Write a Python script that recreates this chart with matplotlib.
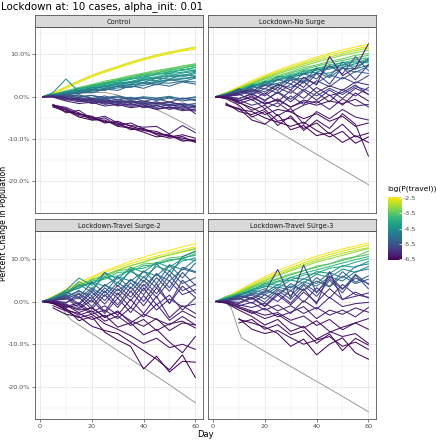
import numpy as np
import matplotlib
matplotlib.use("Agg")
import matplotlib.pyplot as plt
from matplotlib.colors import Normalize

plt.rcParams["axes.unicode_minus"] = False

# dias donde se leyeron los valores de cada trayectoria
days = [1, 5, 10, 15, 20, 25, 30, 35, 40, 45, 50, 55, 60]
nan = float("nan")

# cada trayectoria: (log(P(travel)), cambio % en los dias de arriba)
control_lines = [
    (-2.5, [0, 0.8, 2.2, 3.6, 4.9, 6.0, 7.0, 8.0, 8.9, 9.7, 10.4, 11.0, 11.6]),
    (-2.6, [0, 0.7, 2.0, 3.4, 4.7, 5.8, 6.8, 7.8, 8.7, 9.5, 10.2, 10.8, 11.3]),
    (-2.7, [0, 0.9, 2.4, 3.8, 5.1, 6.2, 7.2, 8.2, 9.1, 9.9, 10.6, 11.2, 11.8]),
    (-3.3, [0, 0.6, 1.3, 2.0, 2.8, 3.4, 4.1, 4.8, 5.4, 6.0, 6.6, 7.1, 7.7]),
    (-3.4, [0, 0.6, 1.4, 2.2, 2.9, 3.7, 4.3, 5.0, 5.6, 6.2, 6.7, 7.3, 7.8]),
    (-3.6, [0, 0.5, 1.1, 1.8, 2.5, 3.2, 3.9, 4.5, 5.1, 5.6, 6.2, 6.8, 7.3]),
    (-3.7, [0, 0.5, 1.3, 1.9, 2.7, 3.3, 4.0, 4.6, 5.3, 5.7, 6.4, 6.8, 7.5]),
    (-3.9, [0, 0.4, 1.0, 1.6, 2.2, 2.9, 3.5, 4.1, 4.7, 5.3, 5.8, 6.4, 6.9]),
    (-4.0, [0, 0.4, 1.2, 1.7, 2.6, 3.0, 3.8, 4.2, 5.0, 5.2, 6.0, 6.2, 7.0]),
    (-4.1, [0, 0.6, 1.0, 2.0, 2.3, 3.2, 3.4, 4.3, 4.5, 5.4, 5.5, 6.5, 6.2]),
    (-4.2, [0, 0.5, 0.9, 1.5, 2.0, 2.7, 3.2, 3.6, 4.4, 4.7, 5.5, 5.8, 6.4]),
    (-4.3, [0, 0.3, 1.0, 1.3, 2.1, 2.4, 3.2, 3.3, 4.2, 4.3, 5.2, 5.0, 5.8]),
    (-4.4, [0, 0.3, 0.8, 1.4, 1.8, 2.5, 2.9, 3.5, 3.9, 4.6, 4.9, 5.6, 6.0]),
    (-4.5, [0, 1.0, 4.2, 1.2, 1.5, 1.9, 2.5, 2.8, 3.1, 3.5, 3.9, 4.2, 4.6]),
    (-4.6, [0, 0.4, 1.2, 1.2, 2.2, 2.1, 3.1, 3.0, 4.0, 3.8, 4.8, 4.7, 5.5]),
    (-4.7, [0, 0.5, 0.8, 1.6, 1.6, 2.6, 2.5, 3.5, 3.4, 4.4, 4.2, 5.2, 4.9]),
    (-4.8, [0, 0.3, 0.6, 1.1, 1.5, 2.0, 2.4, 2.9, 3.2, 3.6, 4.1, 4.3, 4.8]),
    (-5.0, [0, 0.2, 0.5, 0.9, 1.3, 1.6, 2.1, 2.3, 2.7, 3.3, 3.2, 3.7, 3.5]),
    (-5.0, [0, 0.2, 0.7, 0.8, 1.7, 1.5, 2.6, 2.2, 3.4, 2.8, 4.0, 3.6, 4.4]),
    (-5.2, [0, 0.3, 0.4, 1.2, 0.9, 1.8, 1.5, 2.6, 2.0, 3.0, 2.5, 3.5, 3.0]),
    (-4.9, [0, 0.3, 0.5, 0.2, -0.3, -0.5, -0.2, -0.8, -0.4, -0.6, -0.1, -0.5, 0.0]),
    (-5.1, [0, 0.2, 0.6, 0.1, 0.3, -0.2, 0.2, -0.4, 0.0, -0.3, 0.1, -0.6, -0.2]),
    (-5.3, [0, 0.0, -0.4, -0.7, -1.0, -0.6, -1.4, -1.1, -1.7, -1.3, -2.1, -1.8, -2.0]),
    (-5.4, [0, 0.1, 0.2, -0.2, 0.3, -0.4, 0.0, -0.6, -0.2, -0.9, -0.3, -1.0, -0.6]),
    (-5.5, [0, 0.2, 0.1, -0.5, -0.8, -1.2, -1.0, -1.5, -1.3, -1.8, -1.4, -2.0, -1.6]),
    (-5.5, [0, 0.3, 0.0, 0.5, -0.5, 0.2, -0.8, -0.1, -1.1, -0.4, -1.3, -0.3, -0.9]),
    (-5.6, [0, 0.2, 0.4, -0.2, -0.8, -0.5, -1.2, -0.9, -1.6, -1.2, -1.9, -1.5, -2.2]),
    (-5.7, [0, 0.0, -0.5, -0.4, -1.2, -0.9, -1.6, -1.2, -2.0, -1.6, -2.2, -1.9, -2.4]),
    (-5.8, [0, 0.1, -0.3, -0.9, -1.5, -1.3, -2.0, -1.8, -2.4, -2.1, -2.7, -2.3, -2.6]),
    (-5.9, [0, 0.2, -0.1, -1.0, -0.6, -1.6, -1.1, -2.0, -1.5, -2.5, -1.8, -2.8, -2.2]),
    (-6.0, [0, 0.1, -0.6, -1.2, -0.9, -1.8, -1.4, -2.3, -1.9, -2.8, -2.4, -3.0, -3.4]),
    (-6.0, [0, 0.1, -0.8, -0.5, -1.6, -1.1, -2.2, -1.6, -2.6, -2.0, -3.0, -2.4, -3.2]),
    (-6.1, [0, 0.1, -0.2, -0.6, -0.4, -1.0, -0.7, -1.3, -1.0, -1.6, -1.2, -1.9, -4.0]),
    (-6.2, [0, -0.1, -1.0, -1.6, -1.3, -2.2, -1.8, -2.6, -2.2, -3.0, -2.5, -3.3, -2.9]),
    (-6.2, [nan, -1.8, -3.8, -3.2, -5.2, -4.6, -6.2, -6.8, -7.2, -7.0, -8.8, -6.8, -8.5]),
    (-6.3, [nan, -2.0, -2.5, -3.8, -5.5, -5.0, -6.8, -6.2, -7.6, -8.8, -9.0, -10.2, -10.6]),
    (-6.4, [nan, -2.2, -3.0, -4.5, -5.0, -5.8, -6.5, -7.4, -8.0, -8.6, -9.3, -9.8, -10.4]),
    (-6.4, [nan, -1.9, -2.8, -4.2, -4.6, -6.0, -6.2, -7.8, -7.5, -9.0, -9.8, -9.4, -10.8]),
    (-6.5, [nan, -2.4, -3.5, -4.0, -4.8, -6.2, -5.8, -7.0, -7.8, -8.2, -9.5, -9.0, -9.8]),
    (-6.5, [nan, -2.1, -3.2, -4.8, -5.5, -5.5, -7.0, -7.4, -8.4, -9.5, -9.1, -10.5, -10.2]),
]
control_gray_days = [1, 10, 20, 25, 30, 35, 40, 45, 50, 55, 60]
control_gray = [0, 0.5, 1.0, 1.0, 0.4, -0.6, -1.7, -3.0, -4.5, -6.1, -7.8]

nosurge_lines = [
    (-2.5, [0, 1.0, 2.4, 3.8, 5.1, 6.3, 7.4, 8.4, 9.4, 10.3, 11.1, 11.8, 12.4]),
    (-2.7, [0, 0.9, 2.2, 3.5, 4.8, 6.0, 7.0, 8.0, 9.0, 9.9, 10.6, 11.3, 11.9]),
    (-2.9, [0, 0.8, 2.0, 3.3, 4.6, 5.7, 6.7, 7.7, 8.6, 9.4, 10.2, 10.9, 11.5]),
    (-3.2, [0, 0.9, 2.0, 3.2, 4.4, 5.4, 6.4, 7.3, 8.2, 9.0, 9.8, 10.4, 11.0]),
    (-3.4, [0, 0.8, 1.8, 3.0, 4.2, 5.0, 5.9, 6.9, 7.5, 8.4, 9.0, 9.8, 10.2]),
    (-3.6, [0, 0.7, 1.6, 2.8, 3.8, 4.7, 5.6, 6.5, 7.2, 8.0, 8.6, 9.2, 9.8]),
    (-3.8, [0, 0.6, 1.5, 2.6, 3.4, 4.5, 5.1, 6.2, 6.6, 7.6, 8.0, 8.8, 9.2]),
    (-4.0, [0, 0.6, 1.8, 2.4, 3.6, 4.0, 5.3, 5.5, 6.8, 6.9, 8.2, 8.0, 9.0]),
    (-4.2, [0, 0.7, 1.4, 2.9, 3.0, 4.8, 4.6, 6.0, 6.3, 7.2, 7.4, 8.5, 8.0]),
    (-4.4, [0, 0.6, 1.3, 2.6, 2.8, 4.2, 4.3, 5.6, 5.8, 6.9, 7.0, 7.8, 8.6]),
    (-4.5, [0, 0.5, 1.2, 2.2, 3.4, 3.8, 4.9, 5.2, 6.4, 6.5, 7.6, 7.2, 8.4]),
    (-4.8, [0, 0.5, 1.0, 2.0, 2.6, 3.2, 4.0, 4.4, 5.5, 5.6, 6.8, 6.6, 7.5]),
    (-5.0, [0, 0.4, 1.5, 1.2, 3.0, 2.2, 4.5, 3.2, 5.8, 4.5, 6.8, 5.8, 7.2]),
    (-5.2, [0, 0.4, 1.6, 1.0, 3.5, 2.6, 4.8, 3.5, 6.8, 4.8, 8.2, 6.5, 9.0]),
    (-5.3, [0, 0.3, 0.6, 1.6, 1.2, 2.8, 2.2, 4.0, 3.2, 5.2, 4.2, 6.0, 5.5]),
    (-5.5, [0, 0.5, 0.8, 2.5, 1.8, 4.2, 3.0, 5.6, 4.2, 7.4, 5.4, 9.5, 6.2]),
    (-5.6, [0, 0.2, -0.5, 0.8, -1.0, 1.2, -0.6, 1.8, 0.2, 2.0, 0.5, 2.4, 1.5]),
    (-5.7, [0, 0.2, 1.2, 0.4, 2.0, 0.8, 3.0, 1.5, 3.8, 2.4, 4.6, 3.2, 5.0]),
    (-5.8, [0, 0.3, 1.9, 0.5, 2.8, 1.5, 4.0, 2.2, 5.5, 3.0, 7.0, 4.0, 7.6]),
    (-5.9, [0, 0.1, -0.8, -2.0, -1.2, -2.4, 0.2, -1.8, 1.0, -1.2, 1.8, 0.2, 2.2]),
    (-6.0, [0, 0.1, 0.6, -0.8, 0.9, -1.2, 1.5, -0.4, 2.2, 0.3, 1.0, 2.8, 0.5]),
    (-6.0, [0, 0.1, 0.4, 1.4, 0.2, 2.2, 0.8, 3.6, 1.0, 2.6, 1.5, 3.5, 2.8]),
    (-6.1, [0, 0.0, -1.6, -0.6, -2.8, -1.4, -3.6, -2.0, -1.0, -3.0, -0.5, -2.2, -1.8]),
    (-6.1, [0, 0.0, -0.4, 0.6, -0.8, 1.0, -1.2, 1.4, -0.8, 1.6, -0.4, 2.0, 0.6]),
    (-6.2, [0, 0.2, 0.9, 1.8, 0.6, 3.0, 1.6, 4.6, 2.8, 9.5, 5.0, 6.8, 12.5]),
    (-6.2, [0, -0.3, -1.2, -3.2, -2.0, -4.5, -2.8, -6.5, -3.5, -5.2, -3.0, -4.8, -5.5]),
    (-6.3, [0, -0.2, -1.0, 0.2, -1.8, -0.5, -2.5, -0.8, -1.5, 0.4, -2.0, 0.9, -1.0]),
    (-6.3, [0, -0.1, -0.9, -0.2, -1.6, -0.8, -2.4, -1.2, -2.0, -1.0, -1.6, -0.6, -2.4]),
    (-6.3, [0, -0.5, -2.0, -4.8, -3.5, -6.8, -4.5, -8.0, -5.5, -7.5, -4.0, -6.5, -14.0]),
    (-6.4, [nan, -1.5, -3.5, -4.2, -3.0, -5.8, -5.0, -7.5, -6.2, -8.8, -6.5, -9.5, -8.6]),
    (-6.4, [0, -0.2, -1.4, -2.6, -4.2, -3.0, -3.6, -5.2, -4.0, -5.8, -4.6, -7.0, -6.2]),
    (-6.5, [nan, -1.8, -2.8, -5.5, -6.5, -4.2, -7.8, -6.8, -9.2, -8.5, -10.8, -9.2, -10.8]),
    (-6.5, [nan, -2.0, -3.0, -3.5, -5.0, -6.0, -7.0, -6.0, -8.0, -9.5, -8.2, -11.0, -9.5]),
]
nosurge_gray_days = [1, 7, 10, 15, 20, 30, 40, 50, 60]
nosurge_gray = [0, 0, -2.5, -4.6, -6.4, -10.0, -13.6, -17.2, -20.8]

surge2_lines = [
    (-2.5, [0, 1.2, 2.8, 4.5, 5.8, 7.2, 8.3, 9.4, 10.4, 11.3, 12.0, 12.8, 13.5]),
    (-2.6, [0, 1.0, 2.5, 4.1, 5.5, 6.8, 7.9, 8.9, 9.8, 10.6, 11.4, 12.1, 12.8]),
    (-2.8, [0, 0.9, 2.3, 3.7, 5.0, 6.2, 7.3, 8.3, 9.3, 10.1, 10.9, 11.6, 12.2]),
    (-3.2, [0, 1.0, 2.4, 3.8, 5.0, 6.2, 7.4, 8.4, 9.2, 10.2, 10.9, 11.7, 12.4]),
    (-3.5, [0, 0.9, 2.4, 3.5, 5.2, 5.8, 7.2, 7.6, 8.8, 9.0, 10.2, 10.5, 11.6]),
    (-3.8, [0, 0.8, 2.6, 3.0, 4.8, 5.2, 6.8, 7.0, 8.4, 8.6, 9.8, 10.0, 11.2]),
    (-4.0, [0, 0.8, 2.0, 3.6, 4.2, 5.6, 6.0, 7.4, 7.8, 8.9, 9.5, 10.2, 10.8]),
    (-4.2, [0, 0.6, 1.8, 4.6, 3.0, 5.8, 4.4, 7.0, 5.6, 8.2, 7.2, 9.5, 10.2]),
    (-4.3, [0, 1.0, 2.6, 5.5, 3.8, 6.8, 5.2, 8.0, 6.8, 9.2, 8.0, 10.0, 9.6]),
    (-4.6, [0, 0.8, 2.0, 3.2, 4.6, 3.6, 5.8, 4.8, 7.0, 6.0, 8.6, 7.4, 9.8]),
    (-4.8, [0, 0.7, 1.5, 4.0, 2.2, 6.8, 3.5, 7.5, 4.5, 8.8, 6.0, 10.5, 11.8]),
    (-5.0, [0, 0.5, 1.2, 2.4, 1.4, 3.8, 2.5, 5.0, 3.6, 6.4, 4.8, 7.6, 6.8]),
    (-5.1, [0, 0.5, 2.2, 1.0, 4.5, 2.0, 5.8, 3.0, 7.2, 4.2, 8.5, 5.5, 9.0]),
    (-5.3, [0, 0.4, 1.6, 0.6, 3.2, 1.2, 4.5, 2.2, 5.8, 3.2, 7.2, 4.2, 5.6]),
    (-5.4, [0, 0.4, 0.8, 2.6, 0.6, 4.0, 1.5, 5.2, 2.5, 6.6, 3.2, 8.0, 7.0]),
    (-5.6, [0, 0.3, 0.5, 2.0, -0.2, 3.2, 0.8, 4.4, 1.6, 5.6, 2.4, 6.8, 3.8]),
    (-5.7, [0, 0.3, 1.4, -0.5, 2.8, 0.2, 3.8, 1.0, 5.0, 1.8, 6.2, 2.5, 4.0]),
    (-5.8, [0, 0.2, 1.0, -0.8, 2.2, -0.6, 3.0, 0.2, 4.0, 1.0, 4.8, 1.6, 2.8]),
    (-5.9, [0, 0.2, -0.4, 1.8, -1.2, 2.5, -0.8, 3.4, 0.0, 4.2, -0.5, 5.0, 2.0]),
    (-6.0, [0, 0.1, 0.9, -1.5, 1.2, -2.4, 2.0, -1.5, 3.2, -0.8, 1.5, -2.0, 0.8]),
    (-6.0, [0, 0.1, -0.2, 1.0, -1.8, 1.6, -1.4, 2.4, -1.0, 3.2, -0.4, 3.6, 1.0]),
    (-6.1, [0, 0.0, -0.6, -1.8, 0.4, -2.8, 0.8, -2.6, 1.4, -2.0, 0.6, -1.2, -0.6]),
    (-6.2, [0, 0.0, -1.2, -0.3, -2.5, -1.0, -3.2, 0.5, -2.8, 1.2, -3.8, -1.0, -2.8]),
    (-6.2, [0, -0.1, -1.4, -0.8, -3.0, -2.0, -4.0, -1.4, -3.6, -0.6, -4.4, -2.2, -3.8]),
    (-6.3, [0, -0.2, -0.8, -2.6, -1.4, -3.8, -2.2, -5.0, -3.0, -4.2, -5.5, -3.5, -5.5]),
    (-6.3, [0, -0.3, -1.8, -3.2, -2.2, -4.6, -3.4, -5.6, -4.2, -6.8, -5.2, -4.6, -6.2]),
    (-6.3, [0, -0.3, -1.0, -2.0, -1.5, -3.5, -2.5, -4.5, -5.8, -4.0, -6.8, -5.0, -5.5]),
    (-6.4, [nan, -1.0, -2.2, -3.8, -3.0, -5.2, -6.5, -8.0, -9.8, -8.6, -10.8, -10.0, -11.2]),
    (-6.4, [0, -0.4, -2.0, -2.8, -4.2, -3.2, -6.0, -5.0, -7.8, -6.5, -9.5, -12.0, -8.2]),
    (-6.5, [nan, -1.5, -3.0, -3.5, -5.8, -6.8, -7.5, -9.5, -11.5, -13.5, -16.0, -12.5, -17.8]),
    (-6.5, [0, -0.5, -1.6, -4.5, -3.5, -7.2, -9.0, -10.5, -15.8, -12.8, -16.5, -14.0, -14.2]),
]
surge2_gray_days = [1, 7, 8, 10, 12, 20, 30, 40, 50, 60]
surge2_gray = [0, 0, -0.8, -3.0, -4.3, -7.5, -11.5, -15.5, -19.5, -23.7]

surge3_lines = [
    (-2.5, [0, 1.0, 2.6, 4.3, 5.8, 7.2, 8.4, 9.6, 10.6, 11.5, 12.3, 13.0, 13.7]),
    (-2.7, [0, 0.9, 2.4, 4.0, 5.4, 6.7, 7.9, 9.0, 10.1, 11.0, 11.8, 12.5, 13.2]),
    (-2.9, [0, 0.8, 2.2, 3.7, 5.0, 6.3, 7.5, 8.6, 9.6, 10.5, 11.3, 12.0, 12.6]),
    (-3.1, [0, 1.0, 2.2, 3.6, 4.8, 6.0, 7.2, 8.2, 9.2, 10.0, 10.8, 11.6, 12.4]),
    (-3.4, [0, 1.2, 2.0, 3.4, 4.5, 5.4, 6.5, 7.2, 8.3, 8.8, 9.9, 10.5, 11.8]),
    (-3.6, [0, 0.8, 1.8, 3.2, 4.2, 5.2, 6.2, 7.2, 8.0, 8.8, 9.6, 10.4, 11.0]),
    (-3.9, [0, 0.9, 1.6, 2.9, 3.8, 4.8, 5.6, 6.6, 7.4, 8.2, 9.0, 9.8, 10.5]),
    (-4.0, [0, 0.9, 1.4, 2.8, 3.4, 4.6, 5.0, 6.2, 6.6, 7.8, 8.2, 9.2, 10.0]),
    (-4.3, [0, 0.7, 1.8, 2.5, 4.2, 3.8, 5.6, 5.2, 7.0, 6.6, 8.4, 8.0, 9.4]),
    (-4.5, [0, 0.6, 1.6, 2.2, 3.6, 3.2, 5.0, 4.4, 6.4, 5.6, 7.6, 6.8, 8.2]),
    (-4.8, [0, 0.6, 1.2, 2.6, 2.0, 4.0, 3.2, 5.4, 4.2, 6.8, 5.5, 8.2, 8.8]),
    (-4.9, [0, 0.5, 1.0, 2.0, 1.6, 3.4, 2.6, 4.6, 3.6, 5.8, 4.8, 7.0, 7.6]),
    (-5.2, [0, 0.4, 0.9, 1.8, 3.0, 1.5, 4.2, 2.5, 5.6, 3.5, 7.0, 4.5, 6.0]),
    (-5.3, [0, 0.4, 1.2, 0.8, 2.6, 1.6, 3.6, 2.6, 4.8, 3.4, 6.0, 4.2, 5.2]),
    (-5.5, [0, 0.3, 0.4, 1.8, 0.6, 3.0, 1.4, 4.2, 2.2, 5.4, 2.8, 6.4, 4.0]),
    (-5.6, [0, 0.2, 0.6, 1.5, -0.2, 2.6, 0.5, 3.8, 1.2, 5.0, 2.0, 6.2, 3.0]),
    (-5.8, [0, 0.3, 1.4, 0.5, 2.2, 7.5, 0.8, 8.5, 2.0, 6.0, 3.0, 5.5, 4.2]),
    (-5.9, [0, 0.2, 0.8, -0.4, 1.6, 0.0, 2.6, -0.2, 3.2, 0.8, 4.0, 1.6, 1.0]),
    (-6.0, [0, 0.1, -0.5, 0.8, -1.2, 1.5, -0.8, 2.2, -0.2, 3.0, 0.5, 1.2, 2.0]),
    (-6.0, [0, 0.1, -0.2, 1.0, -1.0, 2.0, -0.4, 3.0, -0.6, 7.0, 0.4, 2.2, 0.8]),
    (-6.1, [0, 0.0, -1.0, -0.2, -2.0, -0.8, -2.8, 0.2, -1.8, 1.0, -1.2, -0.5, -0.2]),
    (-6.1, [0, 0.0, -0.8, -1.4, -0.4, -2.2, -1.0, -2.8, -1.4, -3.2, -2.0, -3.6, -1.4]),
    (-6.2, [0, -0.2, -1.5, -2.8, -1.6, -3.6, -2.5, -1.2, -4.0, -2.0, -3.0, -1.5, -2.5]),
    (-6.3, [0, -0.3, -1.5, -2.5, -4.0, -3.0, -5.0, -6.2, -4.5, -7.0, -8.2, -7.5, -9.8]),
    (-6.3, [0, -0.2, -1.2, -2.2, -3.2, -2.6, -4.4, -3.4, -5.6, -4.2, -6.6, -5.0, -4.0]),
    (-6.4, [nan, nan, -4.0, -6.5, -7.5, -6.8, -8.5, -10.0, -9.0, -8.2, -10.5, -9.5, -11.2]),
    (-6.4, [0, -0.4, -2.0, -3.5, -5.5, -4.2, -7.0, -5.8, -8.8, -7.2, -6.0, -5.0, -6.5]),
    (-6.4, [nan, nan, -5.0, -4.2, -6.5, -5.4, -7.8, -6.8, -9.8, -7.6, -11.5, -8.6, -10.2]),
    (-6.5, [nan, nan, -4.2, -5.0, -6.0, -7.5, -10.5, -8.8, -12.5, -10.0, -8.5, -12.0, -13.5]),
]
surge3_gray_days = [1, 5, 7, 10, 11, 20, 30, 40, 50, 60]
surge3_gray = [0, 0, -1.5, -7.0, -8.5, -11.7, -15.2, -18.7, -22.2, -25.8]

panel_titles = ["Control", "Lockdown-No Surge",
                "Lockdown-Travel Surge-2", "Lockdown-Travel SUrge-3"]
panels = [
    (control_lines, control_gray_days, control_gray),
    (nosurge_lines, nosurge_gray_days, nosurge_gray),
    (surge2_lines, surge2_gray_days, surge2_gray),
    (surge3_lines, surge3_gray_days, surge3_gray),
]

W, H = 436, 440
fig = plt.figure(figsize=(W / 100, H / 100), dpi=100)
norm = Normalize(vmin=-6.55, vmax=-2.45)
cmap = plt.get_cmap("viridis")

border = "#555555"
grid_c = "#EBEBEB"
tick_c = "#4D4D4D"

# posiciones en pixeles (x0, x1, y_top, y_bottom)
boxes = [(35, 203, 27, 213), (208, 376, 27, 213),
         (35, 203, 231, 419), (208, 376, 231, 419)]

for i, (lines, gdays, gvals) in enumerate(panels):
    x0, x1, yt, yb = boxes[i]
    ax = fig.add_axes([x0 / W, 1 - yb / H, (x1 - x0) / W, (yb - yt) / H])
    ax.set_xlim(-1.95, 62.95)
    ax.set_ylim(-27.5, 16.5)
    ax.set_xticks([0, 20, 40, 60])
    ax.set_xticks([10, 30, 50], minor=True)
    ax.set_yticks([-20, -10, 0, 10])
    ax.set_yticks([-25, -15, -5, 5, 15], minor=True)
    ax.grid(True, which="major", color=grid_c, lw=0.7)
    ax.grid(True, which="minor", color=grid_c, lw=0.35)
    ax.set_axisbelow(True)
    for s in ax.spines.values():
        s.set_color(border)
        s.set_linewidth(0.6)
    ax.tick_params(which="minor", length=0)
    ax.tick_params(which="major", length=2, width=0.5, color=tick_c,
                   labelsize=4.6, labelcolor=tick_c, pad=1.5)

    ax.plot(gdays, gvals, color="#9A9A9A", lw=0.7, zorder=2)
    for lp, v in lines:
        ax.plot(days, v, color=cmap(norm(lp)), lw=0.75, zorder=3)

    if i % 2 == 1:
        ax.tick_params(labelleft=False, left=False)
    else:
        ax.set_yticklabels(["-20.0%", "-10.0%", "0.0%", "10.0%"])
    if i < 2:
        ax.tick_params(labelbottom=False, bottom=False)

    # tira con el nombre del panel
    sx = fig.add_axes([x0 / W, 1 - yt / H, (x1 - x0) / W, 12 / H])
    sx.set_facecolor("#D9D9D9")
    sx.set_xticks([])
    sx.set_yticks([])
    for s in sx.spines.values():
        s.set_color(border)
        s.set_linewidth(0.6)
    sx.text(0.5, 0.45, panel_titles[i], ha="center", va="center",
            fontsize=4.8, color="#1A1A1A", transform=sx.transAxes)

fig.text(1 / W, 1 - 7 / H, "Lockdown at: 10 cases, alpha_init: 0.01",
         ha="left", va="center", fontsize=7.4)
fig.text(205 / W, 1 - 434 / H, "Day", ha="center", va="center", fontsize=6)
fig.text(4 / W, 1 - 223 / H, "Percent Change in Population", ha="center",
         va="center", rotation=90, fontsize=5.6)

# barra de color
cax = fig.add_axes([388 / W, 1 - 260 / H, 14 / W, 63 / H])
sm = plt.cm.ScalarMappable(norm=norm, cmap=cmap)
cb = fig.colorbar(sm, cax=cax, ticks=[-6.5, -5.5, -4.5, -3.5, -2.5])
cb.outline.set_visible(False)
cb.ax.tick_params(length=2.5, width=0.5, color="white", direction="in",
                  labelsize=4.6, labelcolor=tick_c, pad=1.5)
fig.text(387 / W, 1 - 189 / H, "log(P(travel))", ha="left", va="center",
         fontsize=5.4)

fig.savefig("out.png", dpi=100)
